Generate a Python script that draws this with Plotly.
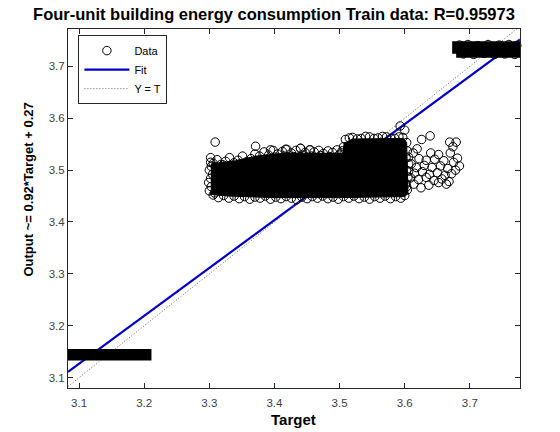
import plotly.graph_objects as go

# ---------------- data ----------------
# dense cores of the three data clusters (Target, Output envelopes of point centres)
core1_T = [3.081, 3.205, 3.205, 3.081, 3.081]
core1_O = [3.1405, 3.1405, 3.1475, 3.1475, 3.1405]

core2_T = [3.303, 3.303, 3.340, 3.372, 3.420, 3.505, 3.507, 3.520, 3.598, 3.603, 3.605, 3.600, 3.500, 3.400, 3.330, 3.303]
core2_O = [3.453, 3.512, 3.518, 3.527, 3.533, 3.532, 3.552, 3.560, 3.561, 3.553, 3.455, 3.449, 3.447, 3.447, 3.450, 3.453]

core3_T = [3.679, 3.776, 3.776, 3.679, 3.679]
core3_O = [3.7245, 3.7245, 3.7405, 3.7405, 3.7245]

# individually visible data circles (edges of the clouds and sparse tail)
data_T = [
    # top edge of middle cloud
    3.306, 3.312, 3.318, 3.325, 3.331, 3.338, 3.344, 3.351, 3.357, 3.364,
    3.370, 3.377, 3.384, 3.391, 3.398, 3.405, 3.412, 3.419, 3.426, 3.433,
    3.440, 3.447, 3.454, 3.461, 3.468, 3.475, 3.482, 3.489, 3.496, 3.503,
    # second row just below the top edge
    3.309, 3.321, 3.335, 3.347, 3.360, 3.373, 3.387, 3.401, 3.415, 3.429,
    3.443, 3.457, 3.471, 3.485, 3.499,
    # outliers above
    3.309, 3.371, 3.394, 3.417, 3.440, 3.455, 3.593, 3.600, 3.302,
    # left edge
    3.300, 3.303, 3.299, 3.302, 3.305, 3.300, 3.303, 3.302, 3.308, 3.310,
    # bottom edge
    3.306, 3.314, 3.322, 3.330, 3.338, 3.346, 3.354, 3.362, 3.370, 3.378,
    3.386, 3.394, 3.402, 3.410, 3.418, 3.426, 3.434, 3.442, 3.450, 3.458,
    3.466, 3.474, 3.482, 3.490, 3.498, 3.506, 3.514, 3.522, 3.530, 3.538,
    3.546, 3.554, 3.562, 3.570, 3.578, 3.586, 3.594, 3.600,
    # upper sub-cloud edge
    3.509, 3.515, 3.520, 3.527, 3.533, 3.540, 3.546, 3.553, 3.559, 3.566,
    3.572, 3.579, 3.585, 3.591, 3.597, 3.603, 3.506, 3.504,
    # right edge of the main cloud
    3.604, 3.602, 3.605, 3.603, 3.606, 3.602, 3.604,
    # sparse tail
    3.639, 3.626, 3.669, 3.679, 3.674, 3.619, 3.613, 3.640, 3.652, 3.670,
    3.681, 3.606, 3.622, 3.633, 3.646, 3.660, 3.675, 3.684, 3.610, 3.618,
    3.630, 3.642, 3.655, 3.666, 3.678, 3.606, 3.615, 3.627, 3.638, 3.650,
    3.662, 3.672, 3.609, 3.621, 3.633, 3.645, 3.657, 3.668, 3.614, 3.637,
    3.664, 3.652, 3.603, 3.625,
    # bumpy edges of the top-right cloud
    3.684, 3.697, 3.712, 3.728, 3.745, 3.760, 3.772, 3.690, 3.706, 3.722,
    3.738, 3.754, 3.769,
]
data_O = [
    3.513, 3.520, 3.511, 3.517, 3.524, 3.514, 3.519, 3.527, 3.516, 3.522,
    3.531, 3.527, 3.535, 3.529, 3.538, 3.531, 3.536, 3.540, 3.533, 3.538,
    3.542, 3.534, 3.539, 3.535, 3.538, 3.532, 3.537, 3.534, 3.539, 3.533,
    3.507, 3.510, 3.506, 3.512, 3.509, 3.516, 3.521, 3.525, 3.527, 3.526,
    3.529, 3.527, 3.528, 3.526, 3.529,
    3.554, 3.546, 3.539, 3.540, 3.542, 3.539, 3.585, 3.577, 3.524,
    3.460, 3.468, 3.476, 3.484, 3.492, 3.500, 3.507, 3.515, 3.456, 3.488,
    3.452, 3.447, 3.451, 3.446, 3.450, 3.445, 3.449, 3.444, 3.448, 3.446,
    3.450, 3.444, 3.448, 3.445, 3.449, 3.446, 3.443, 3.448, 3.445, 3.449,
    3.446, 3.450, 3.445, 3.448, 3.444, 3.449, 3.446, 3.450, 3.445, 3.448,
    3.444, 3.449, 3.446, 3.450, 3.445, 3.449, 3.446, 3.451,
    3.559, 3.562, 3.563, 3.560, 3.561, 3.565, 3.564, 3.561, 3.562, 3.565,
    3.564, 3.561, 3.561, 3.564, 3.563, 3.553, 3.545, 3.537,
    3.462, 3.474, 3.487, 3.499, 3.512, 3.524, 3.537,
    3.566, 3.559, 3.554, 3.554, 3.545, 3.541, 3.533, 3.533, 3.530, 3.533,
    3.523, 3.525, 3.522, 3.519, 3.521, 3.518, 3.515, 3.508, 3.512, 3.505,
    3.509, 3.505, 3.508, 3.503, 3.500, 3.498, 3.494, 3.497, 3.492, 3.495,
    3.490, 3.493, 3.485, 3.482, 3.486, 3.480, 3.483, 3.478, 3.473, 3.471,
    3.473, 3.476, 3.468, 3.466,
    3.741, 3.742, 3.740, 3.742, 3.741, 3.742, 3.740, 3.724, 3.723, 3.725,
    3.723, 3.724, 3.723,
]

fit_T = [3.083, 3.777]
fit_O = [3.111, 3.752]
ident_T = [3.083, 3.777]
ident_O = [3.083, 3.777]

x_ticks = [3.1, 3.2, 3.3, 3.4, 3.5, 3.6, 3.7]
y_ticks = [3.1, 3.2, 3.3, 3.4, 3.5, 3.6, 3.7]
x_range = [3.083, 3.777]
y_range = [3.080, 3.772]

title_text = "Four-unit building energy consumption Train data: R=0.95973"
ylabel_text = "Output ~= 0.92*Target + 0.27"
xlabel_text = "Target"

# ---------------- figure ----------------
FONT = "Liberation Sans, Arial, sans-serif"
fig = go.Figure()

fig.add_trace(go.Scatter(x=fit_T, y=fit_O, mode="lines", name="Fit",
                         line=dict(color="#0000c8", width=2.2), legendrank=2))
fig.add_trace(go.Scatter(x=ident_T, y=ident_O, mode="lines", name="Y = T",
                         line=dict(color="#666666", width=1, dash="1px,2px"), legendrank=3))

for cx, cy, lw in [(core1_T, core1_O, 8), (core2_T, core2_O, 1), (core3_T, core3_O, 8)]:
    fig.add_trace(go.Scatter(x=cx, y=cy, mode="lines", fill="toself",
                             fillcolor="black", line=dict(color="black", width=lw),
                             showlegend=False, hoverinfo="skip"))

fig.add_trace(go.Scatter(x=data_T, y=data_O, mode="markers", name="Data",
                         marker=dict(symbol="circle-open", size=8.5, color="black",
                                     line=dict(width=1, color="black")),
                         cliponaxis=False, legendrank=1))

axis_common = dict(showline=True, linecolor="#262626", linewidth=1, mirror="ticks",
                   ticks="inside", ticklen=5, tickcolor="#262626", showgrid=False,
                   zeroline=False, tickfont=dict(family=FONT, size=11.5, color="#404040"))

fig.update_layout(
    width=560, height=432,
    margin=dict(l=68, r=40, t=29, b=44),
    paper_bgcolor="white", plot_bgcolor="white",
    font=dict(family=FONT, color="black"),
    title=dict(text="<b>" + title_text + "</b>", x=274 / 560, xref="container",
               xanchor="center", y=1 - 14 / 432, yref="container", yanchor="middle",
               font=dict(family=FONT, size=16.5, color="black")),
    xaxis=dict(range=x_range, tickvals=x_ticks, ticktext=[f"{v:.1f}" for v in x_ticks],
               ticklabelstandoff=4, **axis_common),
    yaxis=dict(range=y_range, tickvals=y_ticks, ticktext=[f"{v:.1f}" for v in y_ticks],
               **axis_common),
    legend=dict(x=0.023, y=0.983, xanchor="left", yanchor="top",
                bordercolor="#262626", borderwidth=1, bgcolor="white",
                font=dict(family=FONT, size=11, color="black"),
                itemwidth=45, tracegroupgap=0),
    showlegend=True,
    annotations=[
        dict(text="<b>" + xlabel_text + "</b>", x=0.498, y=(388 - 419) / 359,
             xref="paper", yref="paper", xanchor="center", yanchor="middle",
             showarrow=False, font=dict(family=FONT, size=15, color="black")),
        dict(text="<b>" + ylabel_text + "</b>", x=(27 - 67.5) / 452.5, y=(388 - 190) / 359,
             xref="paper", yref="paper", xanchor="center", yanchor="middle",
             textangle=-90, showarrow=False, font=dict(family=FONT, size=13, color="black")),
    ],
)

fig.write_html("out.html")
